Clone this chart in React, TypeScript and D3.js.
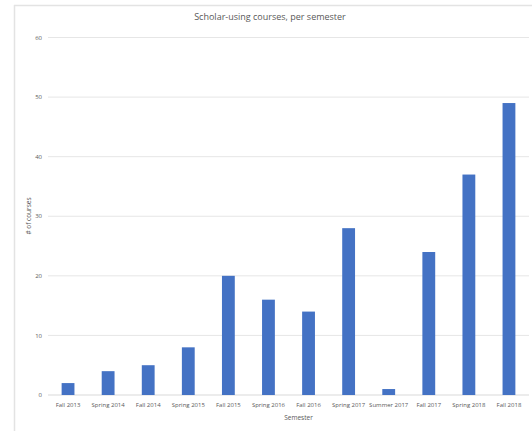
import React from "react";
import * as d3 from "d3";

const categories = ["Fall 2013", "Spring 2014", "Fall 2014", "Spring 2015", "Fall 2015", "Spring 2016", "Fall 2016", "Spring 2017", "Summer 2017", "Fall 2017", "Spring 2018", "Fall 2018"];
const values = [2, 4, 5, 8, 20, 16, 14, 28, 1, 24, 37, 49];
const yTicks = [0, 10, 20, 30, 40, 50, 60];

const W = 532, H = 431;
const left = 48, right = 529, top = 37.5, bottom = 395;
const font = "'Open Sans', 'Noto Sans', sans-serif";

export default function App() {
  const x = d3.scaleBand<string>().domain(categories).range([left, right]).paddingInner(0.68).paddingOuter(0.34);
  const y = d3.scaleLinear().domain([0, 60]).range([bottom, top]);
  return (
    <svg width={W} height={H} style={{ position: "absolute", left: 0, top: 0, background: "#fff" }} fontFamily={font}>
      <rect x={0} y={0} width={W} height={H} fill="#fff" />
      <line x1={14} x2={W} y1={5.5} y2={5.5} stroke="#e3e3e3" strokeWidth={1.5} />
      <line x1={14.5} x2={14.5} y1={5} y2={H} stroke="#e3e3e3" strokeWidth={1.5} />
      <text x={270} y={20} textAnchor="middle" fontSize={9} fill="#595959">Scholar-using courses, per semester</text>
      {yTicks.map(t => (
        <g key={t}>
          <line x1={left} x2={right} y1={y(t)} y2={y(t)} stroke={t === 0 ? "#d9d9d9" : "#e6e6e6"} strokeWidth={1} />
          <text x={42} y={y(t)} dy="0.35em" textAnchor="end" fontSize={6} fill="#595959">{t}</text>
        </g>
      ))}
      {categories.map((c, i) => (
        <rect key={c} x={x(c)} y={y(values[i])} width={x.bandwidth()} height={y(0) - y(values[i])} fill="#4472C4" />
      ))}
      {categories.map(c => (
        <text key={c} x={(x(c) as number) + x.bandwidth() / 2} y={407} textAnchor="middle" fontSize={6} fill="#595959">{c}</text>
      ))}
      <text x={(left + right) / 2 + 10} y={420} textAnchor="middle" fontSize={6.5} fill="#595959">Semester</text>
      <text transform={`translate(31,216) rotate(-90)`} textAnchor="middle" fontSize={6.5} fill="#595959"># of courses</text>
    </svg>
  );
}
